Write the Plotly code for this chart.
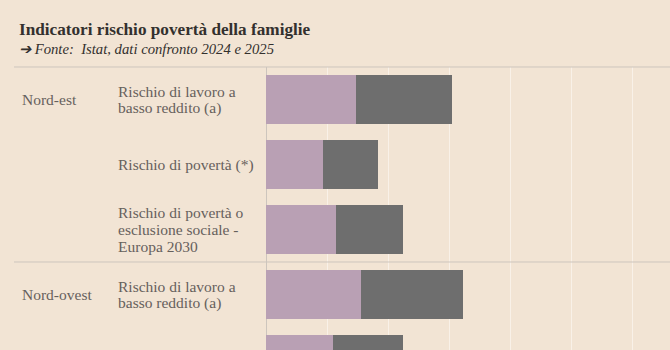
import plotly.graph_objects as go

# ---- data ----
regions = ["Nord-est", "Nord-est", "Nord-est", "Nord-ovest", "Nord-ovest"]
indicators = [
    ["Rischio di lavoro a", "basso reddito (a)"],
    ["Rischio di povertà (*)"],
    ["Rischio di povertà o", "esclusione sociale -", "Europa 2030"],
    ["Rischio di lavoro a", "basso reddito (a)"],
    ["Rischio di povertà (*)"],
]
v2024 = [14.8, 9.4, 11.4, 15.6, 11.0]
v2025 = [15.7, 8.9, 11.1, 16.7, 11.5]
series_names = ["2024", "2025"]

W, H = 670, 350
L, R, T, B = 266, 0, 67, 0
PITCH = 65.0  # px per category
plot_w = W - L - R
plot_h = H - T - B
x_max = plot_w / 6.11  # 10 units ~ 61.1 px
y_bottom = -0.5 + plot_h / PITCH

BG = "#f2e4d4"
PURPLE = "#b9a0b4"
GREY = "#6e6e6e"
LABEL = "#66605c"
DARK = "#33302e"
FONT = "Liberation Serif"

ypos = list(range(len(regions)))

fig = go.Figure()
fig.add_trace(go.Bar(y=ypos, x=v2024, orientation="h", name=series_names[0],
                     marker=dict(color=PURPLE, line=dict(width=0)), width=0.76))
fig.add_trace(go.Bar(y=ypos, x=v2025, orientation="h", name=series_names[1],
                     marker=dict(color=GREY, line=dict(width=0)), width=0.76))


def px2paper_x(px):
    return (px - L) / plot_w


def px2paper_y(py):
    return 1 - (py - T) / plot_h


annotations = []
# title and subtitle
annotations.append(dict(text="<b>Indicatori rischio povertà della famiglie</b>",
                        xref="paper", yref="paper", x=px2paper_x(17), y=px2paper_y(30),
                        xanchor="left", yanchor="middle", showarrow=False,
                        font=dict(family=FONT, size=17.2, color=DARK)))
annotations.append(dict(text="<i>➔ Fonte:  Istat, dati confronto 2024 e 2025</i>",
                        xref="paper", yref="paper", x=px2paper_x(17), y=px2paper_y(49),
                        xanchor="left", yanchor="middle", showarrow=False,
                        font=dict(family=FONT, size=14.7, color=DARK)))

LINE = 17.0
prev = None
for i, (reg, lines) in enumerate(zip(regions, indicators)):
    if reg != prev:
        annotations.append(dict(text=reg, xref="paper", yref="y", x=px2paper_x(19.5), y=i,
                                xanchor="left", yanchor="middle", showarrow=False,
                                font=dict(family=FONT, size=15.5, color=LABEL)))
    prev = reg
    n = len(lines)
    for k, ln in enumerate(lines):
        annotations.append(dict(text=ln, xref="paper", yref="y", x=px2paper_x(115.5), y=i,
                                yshift=-(k - (n - 1) / 2) * LINE,
                                xanchor="left", yanchor="middle", showarrow=False,
                                font=dict(family=FONT, size=15.5, color=LABEL)))

shapes = []
# top rule and group separators
bounds = [-0.5] + [i - 0.5 for i in range(1, len(regions)) if regions[i] != regions[i - 1]]
for b in bounds:
    shapes.append(dict(type="line", xref="paper", yref="paper",
                       x0=px2paper_x(14), x1=1,
                       y0=px2paper_y(T + (b + 0.5) * PITCH), y1=px2paper_y(T + (b + 0.5) * PITCH),
                       line=dict(color="#cdc5bd", width=1), layer="above"))

fig.update_layout(
    width=W, height=H,
    margin=dict(l=L, r=R, t=T, b=B, pad=0),
    paper_bgcolor=BG, plot_bgcolor=BG,
    barmode="stack", bargap=0.24,
    showlegend=False,
    annotations=annotations,
    shapes=shapes,
    xaxis=dict(range=[0, x_max], dtick=10, showgrid=True, gridcolor="#f9f1e8", gridwidth=1,
               zeroline=True, zerolinecolor="#cdc5bd", zerolinewidth=1,
               showticklabels=False, ticks="", fixedrange=True),
    yaxis=dict(range=[y_bottom, -0.5], showgrid=False, zeroline=False,
               showticklabels=False, ticks="", fixedrange=True),
)

fig.write_html("out.html")
